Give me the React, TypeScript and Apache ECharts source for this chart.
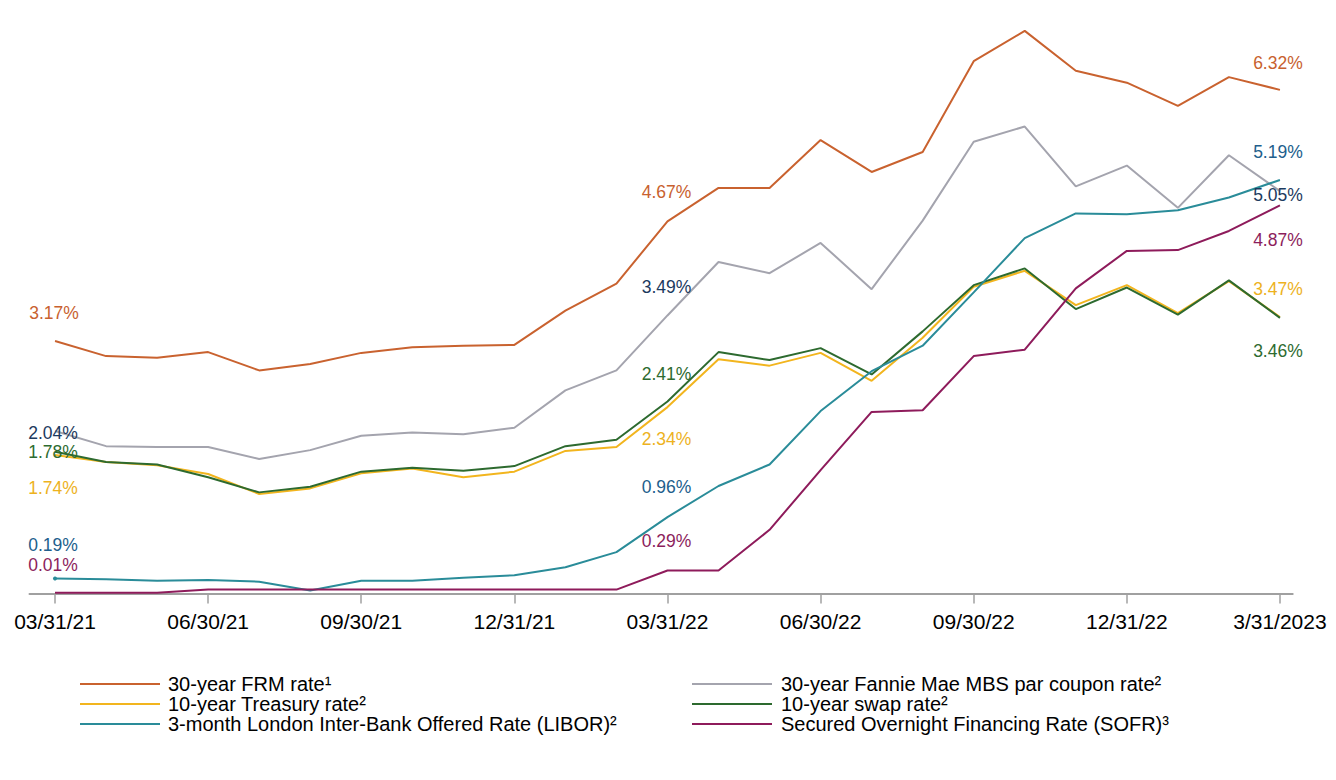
import React, { useEffect, useRef } from "react";
import * as echarts from "echarts";

const tickLabels = ["03/31/21", "06/30/21", "09/30/21", "12/31/21", "03/31/22", "06/30/22", "09/30/22", "12/31/22", "3/31/2023"];
const tickIndex = [0, 3, 6, 9, 12, 15, 18, 21, 24];

const frm = [3.17, 2.98, 2.96, 3.03, 2.8, 2.88, 3.02, 3.09, 3.11, 3.12, 3.55, 3.89, 4.67, 5.09, 5.09, 5.69, 5.29, 5.54, 6.68, 7.06, 6.56, 6.41, 6.12, 6.48, 6.32];
const mbs = [2.04, 1.85, 1.84, 1.84, 1.69, 1.8, 1.98, 2.02, 2.0, 2.08, 2.55, 2.8, 3.49, 4.16, 4.02, 4.4, 3.82, 4.68, 5.67, 5.86, 5.11, 5.37, 4.84, 5.5, 5.05];
const treasury = [1.74, 1.65, 1.61, 1.5, 1.25, 1.32, 1.51, 1.57, 1.46, 1.53, 1.79, 1.84, 2.34, 2.94, 2.86, 3.02, 2.67, 3.21, 3.85, 4.05, 3.62, 3.87, 3.52, 3.92, 3.47];
const swap = [1.78, 1.65, 1.62, 1.46, 1.27, 1.34, 1.53, 1.58, 1.54, 1.6, 1.85, 1.93, 2.41, 3.03, 2.93, 3.08, 2.75, 3.29, 3.87, 4.08, 3.57, 3.84, 3.5, 3.93, 3.46];
const libor = [0.19, 0.18, 0.16, 0.17, 0.15, 0.04, 0.16, 0.16, 0.2, 0.23, 0.33, 0.52, 0.96, 1.35, 1.62, 2.29, 2.79, 3.11, 3.78, 4.46, 4.77, 4.76, 4.81, 4.97, 5.19];
const sofr = [0.01, 0.01, 0.01, 0.05, 0.05, 0.05, 0.05, 0.05, 0.05, 0.05, 0.05, 0.05, 0.29, 0.29, 0.8, 1.55, 2.28, 2.3, 2.98, 3.06, 3.83, 4.3, 4.31, 4.55, 4.87];

const labelIdx = [0, 12, 24];

type SDef = {
  name: string;
  values: number[];
  color: string;
  labelColor: string;
  offsets: number[][];
  startDot?: boolean;
};

const FONT = "'Liberation Sans', Arial, Helvetica, sans-serif";

const defs: SDef[] = [
  { name: "30-year FRM rate¹", values: frm, color: "#C9622F", labelColor: "#C8612F", offsets: [[-1, -28], [-1, -29], [-2, -27]] },
  { name: "30-year Fannie Mae MBS par coupon rate²", values: mbs, color: "#A4A4AE", labelColor: "#1C3A5E", offsets: [[-2, 2], [-1, -28], [-2, 4]] },
  { name: "10-year Treasury rate²", values: treasury, color: "#F2B51E", labelColor: "#EDB21E", offsets: [[-2, 33], [-1, 32], [-2, -28]] },
  { name: "10-year swap rate²", values: swap, color: "#2D6A2F", labelColor: "#2E6B30", offsets: [[-2, 0], [-1, -28], [-2, 33]] },
  { name: "3-month London Inter-Bank Offered Rate (LIBOR)²", values: libor, color: "#2A8C99", labelColor: "#215E8C", offsets: [[-2, -33], [-1, -30], [-2, -28]], startDot: true },
  { name: "Secured Overnight Financing Rate (SOFR)³", values: sofr, color: "#8E1B5B", labelColor: "#8C1E5C", offsets: [[-2, -28], [-1, -29], [-2, 35]] },
];

export default function App() {
  const ref = useRef<HTMLDivElement>(null);
  useEffect(() => {
    if (!ref.current) return;
    const chart = echarts.init(ref.current, undefined, { renderer: "svg" });
    const series = defs.map((d) => ({
      name: d.name,
      type: "line",
      showSymbol: true,
      showAllSymbol: true,
      symbol: "circle",
      symbolSize: 0,
      lineStyle: { color: d.color, width: 2 },
      itemStyle: { color: d.color },
      emphasis: { disabled: true },
      label: {
        show: false,
        position: "inside",
        align: "center",
        verticalAlign: "middle",
        fontSize: 17.5,
        lineHeight: 15,
        fontFamily: FONT,
        color: d.labelColor,
        formatter: (p: any) => `${Number(p.value[1]).toFixed(2)}%`,
      },
      data: d.values.map((v, i) => {
        const k = labelIdx.indexOf(i);
        const item: any = { value: [i, v] };
        if (k >= 0) {
          item.label = { show: true, offset: d.offsets[k] };
        }
        if (d.startDot && i === 0) item.symbolSize = 4;
        return item;
      }),
      z: 2,
    }));

    chart.setOption({
      animation: false,
      backgroundColor: "#ffffff",
      grid: { left: 29.5, right: 43.3, top: 3.8, bottom: 186.4 },
      xAxis: {
        type: "value",
        min: -0.5,
        max: 24.25,
        axisLine: { show: true, onZero: false, lineStyle: { color: "#A0A0A0", width: 2 } },
        axisTick: { show: true, customValues: tickIndex, length: 10, lineStyle: { color: "#A0A0A0", width: 1.5 } },
        axisLabel: {
          show: true,
          customValues: tickIndex,
          fontSize: 21,
          fontFamily: FONT,
          color: "#000000",
          margin: 17,
          formatter: (v: number) => tickLabels[tickIndex.indexOf(Math.round(v))] ?? "",
        },
        splitLine: { show: false },
      },
      yAxis: {
        type: "value",
        min: 0,
        max: 7.4,
        show: false,
        splitLine: { show: false },
      },
      legend: [
        {
          orient: "vertical",
          left: 75,
          top: 669,
          itemWidth: 80,
          itemHeight: 2,
          itemGap: 0,
          icon: "rect",
          selectedMode: false,
          data: [defs[0].name, defs[2].name, defs[4].name],
          textStyle: { fontSize: 20, fontFamily: FONT, color: "#000000", lineHeight: 19.5, padding: [0, 0, 0, 3] },
        },
        {
          orient: "vertical",
          left: 687,
          top: 669,
          itemWidth: 80,
          itemHeight: 2,
          itemGap: 0,
          icon: "rect",
          selectedMode: false,
          data: [defs[1].name, defs[3].name, defs[5].name],
          textStyle: { fontSize: 20, fontFamily: FONT, color: "#000000", lineHeight: 19.5, padding: [0, 0, 0, 4] },
        },
      ],
      series,
    });
    return () => chart.dispose();
  }, []);
  return (
    <div
      ref={ref}
      style={{ position: "fixed", left: 0, top: 0, width: 1336, height: 780, background: "#fff" }}
    />
  );
}
